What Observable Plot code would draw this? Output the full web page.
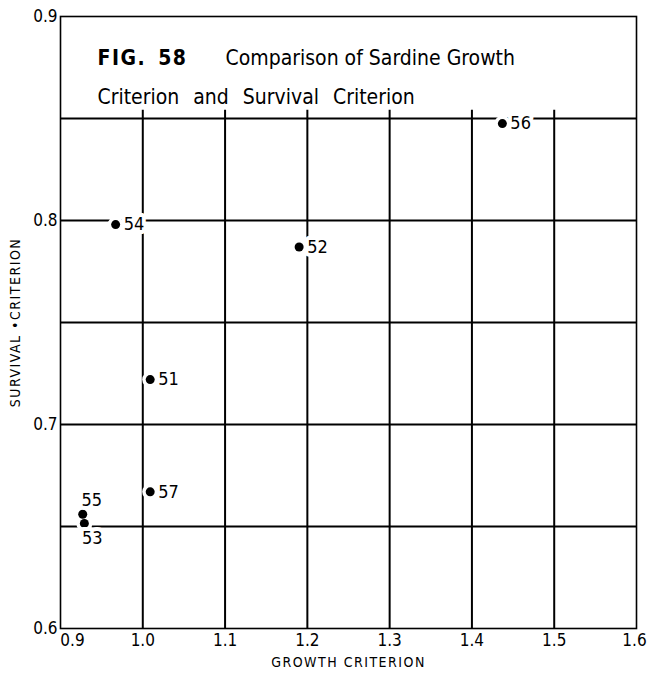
<!DOCTYPE html>
<html>
<head>
<meta charset="utf-8">
<script src="https://cdn.jsdelivr.net/npm/d3@7"></script>
<script src="https://cdn.jsdelivr.net/npm/@observablehq/plot@0.6"></script>
<style>
  html, body { margin: 0; padding: 0; background: white; }
</style>
</head>
<body>
<div id="chart"></div>
<script>
// Data
const years = ["51", "52", "53", "54", "55", "56", "57"];
const growth = [1.009, 1.190, 0.929, 0.967, 0.927, 1.437, 1.009];
const survival = [0.722, 0.787, 0.6515, 0.798, 0.656, 0.8475, 0.667];
const labelSide = ["right", "right", "below", "right", "above", "right", "right"];

const xTicks = [0.9, 1.0, 1.1, 1.2, 1.3, 1.4, 1.5, 1.6];
const yTicks = [0.6, 0.7, 0.8, 0.9];
const hGrid = [0.65, 0.7, 0.75, 0.8, 0.85];
const vGrid = [1.0, 1.1, 1.2, 1.3, 1.4, 1.5];

const titleFig = "FIG. 58";
const titleLine1 = "Comparison of Sardine Growth";
const titleLine2 = "Criterion and Survival Criterion";
const xLabel = "GROWTH CRITERION";
const yLabel = "SURVIVAL •CRITERION";

const points = years.map((yr, i) => ({year: yr, x: growth[i], y: survival[i], side: labelSide[i]}));

const font = "'DejaVu Sans Condensed', 'DejaVu Sans', sans-serif";
const n = xTicks.length;

const chart = Plot.plot({
  width: 647,
  height: 677,
  marginLeft: 60,
  marginRight: 11,
  marginTop: 16,
  marginBottom: 49,
  style: {fontFamily: font, background: "white", color: "black"},
  x: {domain: [0.9, 1.6], axis: null},
  y: {domain: [0.6, 0.9], axis: null},
  marks: [
    Plot.ruleY(hGrid, {stroke: "black", strokeWidth: 1.8}),
    Plot.ruleX(vGrid, {y1: 0.6, y2: 0.854, stroke: "black", strokeWidth: 2}),
    Plot.frame({stroke: "black", strokeWidth: 1.6}),
    // tick labels
    Plot.text(xTicks.slice(1, n - 1), {x: d => d, frameAnchor: "bottom", dy: 17, fontSize: 17, text: d => d.toFixed(1)}),
    Plot.text(xTicks.slice(0, 1), {x: d => d, frameAnchor: "bottom", dy: 17, dx: 12, fontSize: 17, text: d => d.toFixed(1)}),
    Plot.text(xTicks.slice(n - 1), {x: d => d, frameAnchor: "bottom", dy: 17, dx: -2, fontSize: 17, text: d => d.toFixed(1)}),
    Plot.text(yTicks, {y: d => d, frameAnchor: "left", dx: -3, textAnchor: "end", fontSize: 17, text: d => d.toFixed(1)}),
    // axis titles
    Plot.text([xLabel], {frameAnchor: "bottom", dy: 38, fontSize: 14, text: d => d, className: "spaced"}),
    Plot.text([yLabel], {frameAnchor: "left", dx: -45, rotate: -90, textAnchor: "middle", fontSize: 14, text: d => d, className: "spaced"}),
    // title
    Plot.text([titleFig], {frameAnchor: "top-left", dx: 37, dy: 34, textAnchor: "start", fontSize: 21, fontWeight: "bold", text: d => d, className: "figno"}),
    Plot.text([titleLine1], {frameAnchor: "top-left", dx: 165, dy: 34, textAnchor: "start", fontSize: 21, text: d => d}),
    Plot.text([titleLine2], {frameAnchor: "top-left", dx: 37, dy: 73, textAnchor: "start", fontSize: 21, text: d => d, className: "wide"}),
    // points with white halos
    Plot.dot(points, {x: "x", y: "y", r: 8, fill: "white"}),
    Plot.dot(points, {x: "x", y: "y", r: 4.5, fill: "black"}),
    Plot.text(points.filter(d => d.side === "right"), {x: "x", y: "y", text: "year", dx: 8, textAnchor: "start", fontSize: 18, fill: "black", stroke: "white", strokeWidth: 8}),
    Plot.text(points.filter(d => d.side === "above"), {x: "x", y: "y", text: "year", dx: 9, dy: -14, fontSize: 18, fill: "black", stroke: "white", strokeWidth: 8}),
    Plot.text(points.filter(d => d.side === "below"), {x: "x", y: "y", text: "year", dx: 8, dy: 15, fontSize: 18, fill: "black", stroke: "white", strokeWidth: 8})
  ]
});

d3.select(chart).selectAll("g.spaced text").style("letter-spacing", "1.5px");
d3.select(chart).selectAll("g.figno text").style("letter-spacing", "1.5px").style("word-spacing", "4px");
d3.select(chart).selectAll("g.wide text").style("word-spacing", "8px");
document.getElementById("chart").appendChild(chart);
</script>
</body>
</html>
